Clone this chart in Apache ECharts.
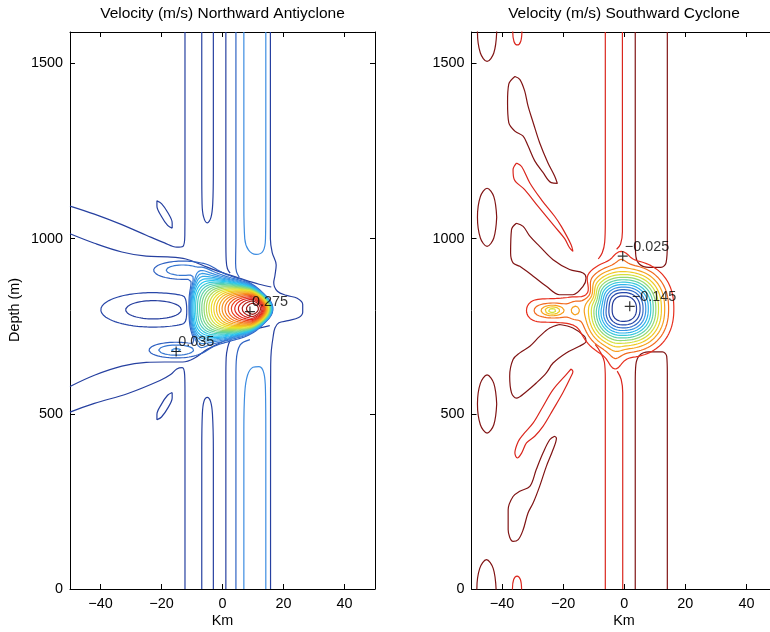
<!DOCTYPE html>
<html><head><meta charset="utf-8">
<script src="https://cdn.jsdelivr.net/npm/echarts@6/dist/echarts.min.js"></script>
<style>html,body{margin:0;padding:0;background:#fff;}#chart{width:770px;height:632px;}</style>
</head><body><div id="chart"></div>
<script>
// ================= DATA =================
const xTicks = [-40, -20, 0, 20, 40];
const zTicks = [0, 500, 1000, 1500];
const xRange = [-50, 50];
const zRange = [0, 1590];
const titleL = 'Velocity (m/s) Northward Antiyclone';
const titleR = 'Velocity (m/s) Southward Cyclone';
const xName = 'Km';
const yName = 'Depth (m)';

// contour levels (m/s)
const levelsL = [-0.015,-0.005,0.015,0.025,0.035,0.045,0.055,0.065,0.075,0.085,0.095,0.105,0.115,0.125,0.135,0.145,0.155,0.165,0.175,0.185,0.195,0.205,0.215,0.225,0.235,0.245,0.255,0.265];
const colorRangeL = [-0.045, 0.275];
const levelsR = [-0.135,-0.125,-0.115,-0.105,-0.095,-0.085,-0.075,-0.065,-0.055,-0.045,-0.035,-0.025,-0.015];
const colorRangeR = [-0.145, 0.005];

// extreme markers [km, m] and labels
const marksL = [[9.0, 792], [-15.2, 678]];
const markLabelsL = ['0.275', '0.035'];
const marksR = [[-0.5, 950], [1.8, 807]];
const markLabelsR = ['\u22120.025', '\u22120.145'];

// velocity field features (km, m, m/s)
const coreL = {x: 10, z: 800, amp: 0.275, w1: 0.0065, w2: 0.00018, r0: 1, e2: 0.00284, e4: 0.0000772,
               shiftW: 3, shiftE: 5, cut: -10.8, cutW: 0.5, h0: 55, hSlope: 2.5, hx: 14, g2: 0.6};
const armUpL = {x: -13, z: 910, amp: 0.032, sx: 11, sz: 30};
const armLoL = {x: -15.2, z: 682, amp: 0.036, sx: 9.5, sz: 24};
const lobeL = {x: -22.6, z: 797, amp: -0.023, sx: 14, sz: 40};

const coreR = {x: -0.3, z: 800, amp: -0.15, sxW: 10.5, sxE: 11.5, sz: 97, p: 2.3};
const bumpR = {x: -1, z: 950, amp: -0.012, sx: 3, sz: 30};
const dipR = {x: -3, z: 645, amp: -0.013, sx: 3, sz: 50};
const tongueR = {x: -24, z: 795, amp: -0.028, sx: 9, sz: 42};
const tongueDip1 = {x: -16, z: 795, amp: -0.012, sx: 1.8, sz: 25};
const tongueDip2 = {x: -23.6, z: 795, amp: -0.032, sx: 3, sz: 14};
const shieldR = {x: -17, z: 880, amp: 0.03, sa: 10, sc: 2.5, ang: -37};

// traced contour lines, left panel [km, m]
const stripeL_w_top = [[-12.3,1590],[-12.3,1100],[-12.35,1010],[-13,978],[-15,976],[-19,988],[-25,1010],[-33,1040],[-42,1070],[-50,1093]];
const stripeL_w_bot = [[-12.3,0],[-12.3,560],[-12.4,610],[-13.2,632],[-15,628],[-17,612],[-20.5,595],[-31,558],[-42,530],[-50,505]];
const diagL_up = [[-50,1014],[-42,987],[-33,962],[-25,950],[-18,948],[-12,942],[-6,922],[0,903],[6,886],[12,870],[16,862]];
const diagL_lo = [[-50,578],[-42,610],[-33,636],[-25,647],[-19,648],[-13,648],[-9,660],[-5,684],[0,706],[5,724],[10,740],[15.5,752]];
const uL_top1 = [[-6.8,1590],[-6.8,1200],[-6.7,1100],[-6.2,1062],[-5,1045],[-3.8,1060],[-3.2,1100],[-3.0,1200],[-3.0,1590]];
const uL_bot1 = [[-6.8,0],[-6.8,400],[-6.6,500],[-6.1,535],[-5,547],[-3.9,535],[-3.3,500],[-3.0,400],[-3.0,0]];
const lineL_a_top = [[1.1,1590],[1.1,1000],[1.2,940],[1.6,915],[2.5,902]];
const lineL_a_bot = [[1.1,0],[1.1,600],[1.2,660],[1.7,690],[2.6,712]];
const lineL_b_top = [[4.4,1590],[4.4,1000],[4.3,930],[4.6,905],[5.5,890]];
const lineL_b_bot = [[4.4,0],[4.4,600],[4.5,650],[5.8,697],[9,712]];
const uL_top2 = [[7.0,1590],[7.0,1100],[7.3,1000],[8.5,968],[11,955],[13.3,965],[14.1,1000],[14.2,1100],[14.2,1590]];
const uL_bot2 = [[7.0,0],[7.0,450],[7.3,560],[8.2,610],[10,633],[12,635],[13.6,615],[14.1,560],[14.2,450],[14.2,0]];
const lineL_e = [[15.7,1590],[15.7,1000],[16.3,960],[17.6,925],[17.2,895],[16.8,875],[18,850],[21,838],[24.5,830],[26.3,812],[26.3,790],[25,775],[21.5,766],[18.5,760],[17.2,745],[16.6,720],[16,680],[15.8,640],[15.75,500],[15.75,0]];
const ellL_up = [[-16.5,1030],[-16.5,1045],[-17.9,1074],[-20,1100],[-21.5,1108],[-21.5,1093],[-20.05,1064],[-18,1038],[-16.5,1030]];
const ellL_lo = [[-16.5,561],[-16.5,546],[-17.9,517],[-20,491],[-21.5,483],[-21.5,498],[-20.05,527],[-18,553],[-16.5,561]];

// traced contour lines, right panel [km, m]
const lineR_a_top = [[-6.2,1590],[-6.2,1050],[-6.4,990],[-7.2,960],[-8.5,942]];
const lineR_a_bot = [[-6.2,0],[-6.2,600],[-6.5,648],[-7.8,676],[-9.5,698]];
const lineR_b_top = [[-0.6,1590],[-0.6,1020],[-1.2,985],[-2.5,970]];
const lineR_b_bot = [[-0.5,0],[-0.5,560],[-1.0,598],[-2.3,622]];
const uR_top = [[3.6,1590],[3.6,1000],[3.8,950],[5,927],[8,918],[12,918],[13.7,932],[14.1,985],[14.1,1590]];
const uR_bot = [[3.6,0],[3.6,590],[3.8,640],[5,667],[8,677],[12.5,677],[13.9,664],[14.1,615],[14.1,0]];
const lobeR_1 = [[-35.8,1463],[-37.8,1441],[-38.2,1389],[-37.8,1331],[-35.8,1307],[-33.1,1293],[-31.5,1265],[-29.3,1222],[-26.6,1189],[-23.9,1160],[-21.9,1158],[-22.8,1179],[-25,1217],[-27.7,1274],[-29.8,1331],[-31.5,1379],[-32.6,1422],[-34.2,1455],[-35.8,1463]];
const lobeR_2 = [[-35.3,1216],[-36.4,1197],[-36,1169],[-32.6,1140],[-28.2,1092],[-22.8,1035],[-19.5,1000],[-17.9,974],[-16.8,964],[-17.4,983],[-20.6,1035],[-22.8,1064],[-27.1,1111],[-30.9,1159],[-33.6,1206],[-35.3,1216]];
const lobeR_3 = [[-35.3,1044],[-36.9,1026],[-37.2,959],[-36.4,931],[-34.2,921],[-29.8,893],[-25.5,864],[-21.2,840],[-16.8,840],[-13.5,864],[-12.5,888],[-13.5,902],[-17.9,912],[-23.3,940],[-27.7,978],[-30.9,1007],[-33.1,1035],[-35.3,1044]];
const lobeR_4 = [[-21.2,755],[-16.8,745],[-13,721],[-12.5,707],[-14.7,693],[-19,674],[-23.3,645],[-25.5,617],[-28.8,588],[-32,564],[-35.3,545],[-36.9,560],[-37.5,607],[-36.4,655],[-34.2,674],[-30.9,693],[-27.7,721],[-24.4,745],[-21.2,755]];
const lobeR_5 = [[-17.4,628],[-19,612],[-23.3,569],[-26.6,521],[-29.8,474],[-33.1,441],[-34.7,421],[-35.8,388],[-35,374],[-33.6,388],[-32,417],[-29.3,436],[-26.6,464],[-23.3,512],[-20.1,560],[-17.4,607],[-16.8,621],[-17.4,628]];
const lobeR_6 = [[-22.8,436],[-24.4,426],[-26.6,388],[-28.8,341],[-30.9,293],[-34.2,279],[-36.4,264],[-38,226],[-38,169],[-36.4,136],[-34.7,141],[-33.1,169],[-31.5,217],[-29.8,246],[-27.7,293],[-25.5,350],[-23.3,398],[-22.2,431],[-22.8,436]];
const ellR_1 = [[-41.75,1589],[-42.7,1648],[-44.9,1672],[-47.1,1648],[-48.05,1589],[-47.1,1530],[-44.9,1506],[-42.7,1530],[-41.75,1589]];
const ellR_2 = [[-41.75,1061],[-42.7,1120],[-44.9,1144],[-47.1,1120],[-48.05,1061],[-47.1,1002],[-44.9,978],[-42.7,1002],[-41.75,1061]];
const ellR_3 = [[-41.75,528],[-42.7,587],[-44.9,611],[-47.1,587],[-48.05,528],[-47.1,469],[-44.9,445],[-42.7,469],[-41.75,528]];
const ellR_4 = [[-41.95,0],[-42.9,59],[-45.1,84],[-47.3,59],[-48.25,0],[-47.3,-59],[-45.1,-84],[-42.9,-59],[-41.95,0]];
const ellR_5 = [[-33.5,1590],[-33.9,1617],[-35,1628],[-36.1,1617],[-36.5,1590],[-36.1,1563],[-35,1553],[-33.9,1563],[-33.5,1590]];
const ellR_6 = [[-33.6,0],[-34,27],[-35.1,37],[-36.2,27],[-36.6,0],[-36.2,-27],[-35.1,-37],[-34,-27],[-33.6,0]];

// ================= STYLE / BUILD =================
const FONT = "'Liberation Sans', Arial, Helvetica, sans-serif";
const STOPS = [
  [0.000, [34, 52, 145]], [0.100, [38, 64, 160]], [0.160, [42, 80, 180]],
  [0.250, [60, 140, 225]], [0.375, [40, 198, 240]], [0.500, [118, 214, 140]],
  [0.625, [236, 226, 40]], [0.750, [248, 150, 30]], [0.875, [230, 40, 30]], [1.000, [128, 20, 20]]
];
function pal(t) {
  t = Math.max(0, Math.min(1, t));
  for (let i = 1; i < STOPS.length; i++) {
    if (t <= STOPS[i][0]) {
      const a = STOPS[i-1], b = STOPS[i], f = (t - a[0]) / (b[0] - a[0]);
      const c = a[1].map((v, k) => Math.round(v + (b[1][k] - v) * f));
      return 'rgb(' + c.join(',') + ')';
    }
  }
  return 'rgb(128,20,20)';
}
const gauss = (dx, dz, sx, sz) => Math.exp(-(dx*dx)/(sx*sx) - (dz*dz)/(sz*sz));
const ZKM = 8.74; // metres that look as long as 1 km on screen

function fieldL(x, z) {
  const c = coreL;
  const h = c.h0 + c.hSlope * Math.max(0, c.hx - x);
  const s = (z - c.z) / h, s2 = s * s;
  const xw = x - c.shiftW * s2;
  const dW = Math.max(0, c.x - xw);
  const dE = Math.max(0, x + c.shiftE * s2 - c.x);
  const CW = c.amp - c.w1 * (Math.hypot(dW, c.r0) - c.r0) - c.w2 * dW * dW;
  const CE = c.amp - c.e2 * dE * dE - c.e4 * dE * dE * dE * dE;
  let C = Math.max(0, Math.min(CW, CE));
  C /= (1 + Math.exp(-(xw - c.cut) / c.cutW));
  let u = C * Math.exp(-c.g2 * s2 - s2 * s2 * s2);
  for (const g of [armUpL, armLoL, lobeL]) u += g.amp * gauss(x - g.x, z - g.z, g.sx, g.sz);
  return u;
}
function fieldR(x, z) {
  const c = coreR, dx = x - c.x;
  let u = c.amp * Math.exp(-(Math.pow(Math.abs(dx) / (dx < 0 ? c.sxW : c.sxE), c.p) + Math.pow(Math.abs(z - c.z) / c.sz, c.p)));
  for (const g of [bumpR, dipR, tongueDip1, tongueDip2]) u += g.amp * gauss(x - g.x, z - g.z, g.sx, g.sz);
  const tx = (x - tongueR.x) / tongueR.sx, tz = (z - tongueR.z) / tongueR.sz;
  u += tongueR.amp * Math.exp(-tx*tx*tx*tx - tz*tz);
  const dxk = x - shieldR.x, dzk = (z - shieldR.z) / ZKM, an = shieldR.ang * Math.PI / 180;
  const a = (dxk * Math.cos(an) + dzk * Math.sin(an)) / shieldR.sa;
  const b = (-dxk * Math.sin(an) + dzk * Math.cos(an)) / shieldR.sc;
  u += shieldR.amp * Math.exp(-(a * a) - (b * b));
  return u;
}

function sample(f, x0, x1, nx, z0, z1, nz) {
  const xs = [], zs = [], v = [];
  for (let i = 0; i < nx; i++) xs.push(x0 + (x1 - x0) * i / (nx - 1));
  for (let j = 0; j < nz; j++) zs.push(z0 + (z1 - z0) * j / (nz - 1));
  for (let j = 0; j < nz; j++) { const r = new Float64Array(nx); for (let i = 0; i < nx; i++) r[i] = f(xs[i], zs[j]); v.push(r); }
  return {xs, zs, v, nx, nz};
}
function contour(g, L) {
  const {xs, zs, v, nx, nz} = g;
  const pts = new Map(), segs = [];
  function P(type, i, j) {
    const k = (j * nx + i) * 2 + (type === 'h' ? 0 : 1);
    if (!pts.has(k)) {
      let a, b, xa, xb, za, zb;
      if (type === 'h') { a = v[j][i]; b = v[j][i+1]; xa = xs[i]; xb = xs[i+1]; za = zb = zs[j]; }
      else { a = v[j][i]; b = v[j+1][i]; xa = xb = xs[i]; za = zs[j]; zb = zs[j+1]; }
      const t = (L - a) / (b - a);
      pts.set(k, [xa + (xb - xa) * t, za + (zb - za) * t]);
    }
    return k;
  }
  for (let j = 0; j < nz - 1; j++) for (let i = 0; i < nx - 1; i++) {
    const a = v[j][i], b = v[j][i+1], c = v[j+1][i+1], d = v[j+1][i];
    const code = (a > L ? 1 : 0) | (b > L ? 2 : 0) | (c > L ? 4 : 0) | (d > L ? 8 : 0);
    if (code === 0 || code === 15) continue;
    const B = () => P('h', i, j), R = () => P('v', i+1, j), T = () => P('h', i, j+1), W = () => P('v', i, j);
    const cen = (a + b + c + d) / 4 > L;
    switch (code) {
      case 1: case 14: segs.push([W(), B()]); break;
      case 2: case 13: segs.push([B(), R()]); break;
      case 3: case 12: segs.push([W(), R()]); break;
      case 4: case 11: segs.push([R(), T()]); break;
      case 6: case 9: segs.push([B(), T()]); break;
      case 7: case 8: segs.push([W(), T()]); break;
      case 5: if (cen) { segs.push([W(), T()]); segs.push([B(), R()]); } else { segs.push([W(), B()]); segs.push([R(), T()]); } break;
      case 10: if (cen) { segs.push([W(), B()]); segs.push([R(), T()]); } else { segs.push([W(), T()]); segs.push([B(), R()]); } break;
    }
  }
  const adj = new Map();
  segs.forEach((s, idx) => s.forEach(k => { if (!adj.has(k)) adj.set(k, []); adj.get(k).push(idx); }));
  const used = new Uint8Array(segs.length), out = [];
  const walk = (start) => { const res = []; let cur = start;
    for (;;) { let nxt = -1; for (const q of adj.get(cur)) if (!used[q]) { nxt = q; break; }
      if (nxt < 0) break; used[nxt] = 1; const o = segs[nxt][0] === cur ? segs[nxt][1] : segs[nxt][0]; res.push(o); cur = o; }
    return res; };
  for (let s = 0; s < segs.length; s++) {
    if (used[s]) continue; used[s] = 1;
    const fw = walk(segs[s][1]), bw = walk(segs[s][0]);
    const chain = bw.reverse().concat([segs[s][0], segs[s][1]], fw);
    out.push(chain.map(k => pts.get(k)));
  }
  return out;
}

const series = [];
function addContours(gridIdx, grid, levels, crange) {
  for (const L of levels) {
    const lines = contour(grid, L);
    const data = [];
    lines.forEach(l => { l.forEach(p => data.push(p)); data.push([NaN, NaN]); });
    series.push({type: 'line', xAxisIndex: gridIdx * 2, yAxisIndex: gridIdx * 2, data, showSymbol: false,
      silent: true, animation: false, connectNulls: false,
      lineStyle: {color: pal((L - crange[0]) / (crange[1] - crange[0])), width: 1.2}});
  }
}
function addTraced(gridIdx, pts, color) {
  series.push({type: 'line', xAxisIndex: gridIdx * 2, yAxisIndex: gridIdx * 2, data: pts, showSymbol: false,
    smooth: 0.35, silent: true, animation: false, lineStyle: {color, width: 1.2}});
}
function addMarks(gridIdx, pts, labels) {
  series.push({type: 'scatter', xAxisIndex: gridIdx * 2, yAxisIndex: gridIdx * 2, silent: true, animation: false,
    symbol: 'path://M4.4,0H5.6V10H4.4Z M0,4.4H10V5.6H0Z', symbolSize: 10, itemStyle: {color: '#000'},
    data: pts.map((p, i) => ({value: p, label: {show: true, formatter: labels[i]}})),
    label: {position: [7, -4.5], align: 'left', verticalAlign: 'middle', color: '#000', fontSize: 14.4, fontFamily: FONT}, z: 10});
}

const gL = sample(fieldL, -50, 40, 361, 560, 1060, 251);
const gR = sample(fieldR, -45, 35, 321, 500, 1100, 301);

const dark = pal(0.1), mid = pal(0.19), light = pal(0.25);
[[stripeL_w_top, dark], [stripeL_w_bot, dark], [diagL_up, dark], [diagL_lo, dark], [uL_top1, dark], [uL_bot1, dark],
 [lineL_a_top, dark], [lineL_a_bot, dark], [lineL_b_top, mid], [lineL_b_bot, mid], [uL_top2, light], [uL_bot2, light],
 [lineL_e, dark], [ellL_up, dark], [ellL_lo, dark]].forEach(([p, c]) => addTraced(0, p, c));
addContours(0, gL, levelsL, colorRangeL);
addMarks(0, marksL, markLabelsL);

const red = pal(0.89), dred = pal(1.0);
[[lineR_a_top, red], [lineR_a_bot, red], [lineR_b_top, red], [lineR_b_bot, red], [uR_top, dred], [uR_bot, dred],
 [lobeR_1, dred], [lobeR_2, red], [lobeR_3, dred], [lobeR_4, dred], [lobeR_5, red], [lobeR_6, dred],
 [ellR_1, dred], [ellR_2, dred], [ellR_3, dred], [ellR_4, dred], [ellR_5, red], [ellR_6, red]].forEach(([p, c]) => addTraced(1, p, c));
addContours(1, gR, levelsR, colorRangeR);
addMarks(1, marksR, markLabelsR);

const fmt = v => (v < 0 ? '\u2212' + Math.abs(v) : String(v));
const axLine = {show: true, onZero: false, lineStyle: {color: '#000', width: 1}};
const tick = vals => ({show: true, inside: true, length: 5, customValues: vals, lineStyle: {color: '#000', width: 1}});
function xAxes(gi) {
  return [
    {type: 'value', gridIndex: gi, min: xRange[0], max: xRange[1], position: 'bottom', axisLine: axLine, splitLine: {show: false},
     axisTick: tick(xTicks), axisLabel: {customValues: xTicks, formatter: fmt, margin: 8, color: '#000', fontSize: 14.4, fontFamily: FONT}},
    {type: 'value', gridIndex: gi, min: xRange[0], max: xRange[1], position: 'top', axisLine: axLine, splitLine: {show: false},
     axisTick: tick(xTicks), axisLabel: {show: false}}
  ];
}
function yAxes(gi) {
  return [
    {type: 'value', gridIndex: gi, min: zRange[0], max: zRange[1], position: 'left', axisLine: axLine, splitLine: {show: false},
     axisTick: tick(zTicks), axisLabel: {customValues: zTicks, formatter: fmt, margin: 7, color: '#000', fontSize: 14.4, fontFamily: FONT}},
    {type: 'value', gridIndex: gi, min: zRange[0], max: zRange[1], position: 'right', axisLine: axLine, splitLine: {show: false},
     axisTick: tick(zTicks), axisLabel: {show: false}}
  ];
}
const txt = (x, y, text, size, rot) => ({type: 'text', x, y, rotation: rot || 0, silent: true,
  style: {text, fill: '#000', font: size + 'px ' + FONT, textAlign: 'center', textVerticalAlign: 'middle'}});

const chart = echarts.init(document.getElementById('chart'), null, {renderer: 'canvas'});
chart.setOption({
  animation: false,
  backgroundColor: '#fff',
  grid: [
    {left: 70, top: 32, width: 305, height: 557, containLabel: false, outerBoundsMode: 'none'},
    {left: 471.5, top: 32, width: 305.5, height: 557, containLabel: false, outerBoundsMode: 'none'}
  ],
  xAxis: xAxes(0).concat(xAxes(1)),
  yAxis: yAxes(0).concat(yAxes(1)),
  graphic: [
    txt(222.5, 14, titleL, 15.5), txt(624, 14, titleR, 15.5),
    txt(222.5, 621, xName, 14.4), txt(624, 621, xName, 14.4),
    txt(15, 310, yName, 14.4, Math.PI / 2)
  ],
  series
});
</script></body></html>
